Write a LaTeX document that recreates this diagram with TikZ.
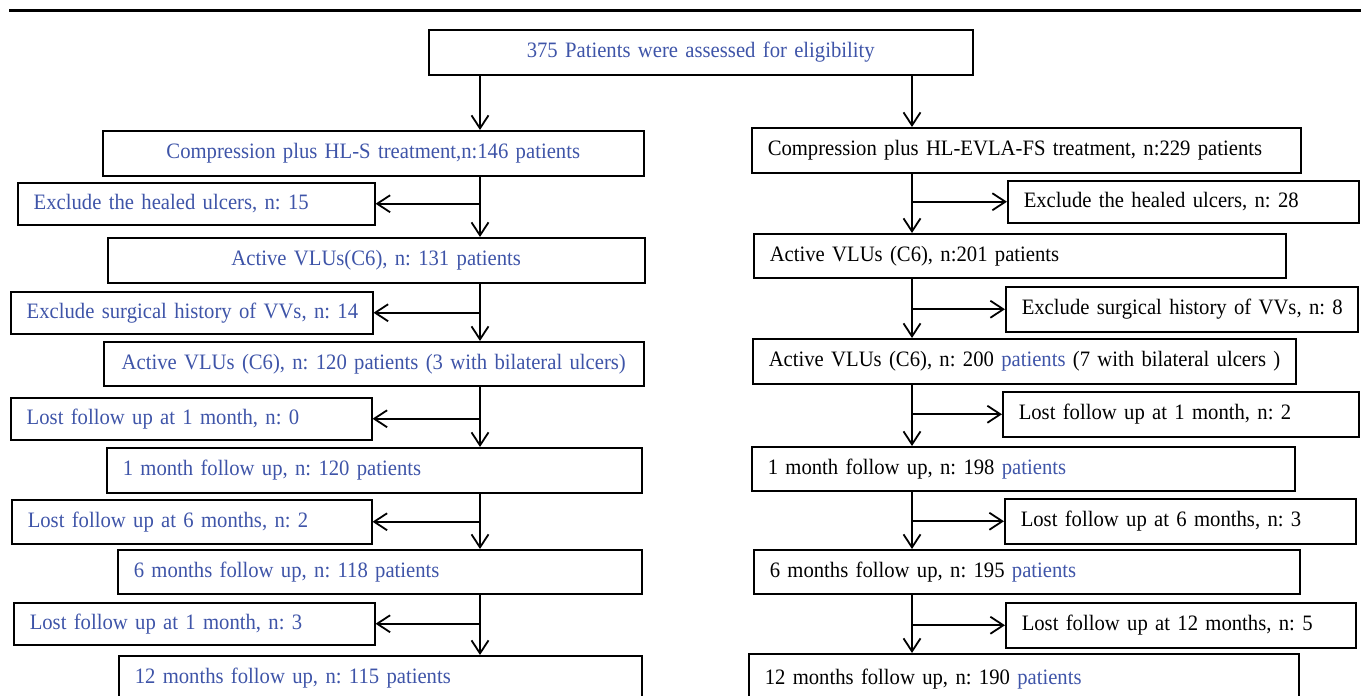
\documentclass[tikz,border=0pt]{standalone}
\usepackage{fontspec}
\setmainfont{Liberation Serif}
\newfontfamily\ff[FakeStretch=0.94]{Liberation Serif}
\usetikzlibrary{arrows.meta}
\definecolor{tblue}{RGB}{62,84,168}
\begin{document}
\begin{tikzpicture}[x=1pt,y=-1pt,
  box/.style={draw, line width=1.5pt, anchor=north west, inner xsep=16pt, inner ysep=0pt,
    font=\ff\fontsize{22pt}{26pt}\selectfont\frenchspacing, text=tblue},
  cbox/.style={box, inner xsep=4pt, align=center},
  lbox/.style={box, align=left},
  bk/.style={text=black},
  arr/.style={line width=1.8pt, -{Straight Barb[length=13pt,width=17pt,line width=1.8pt]}}]
\useasboundingbox (0,0) rectangle (1361,696);
\clip (0,0) rectangle (1361,696);
\draw[line width=3pt] (9,10) -- (1361,10);
\coordinate (xl) at (480,0);
\coordinate (xr) at (912,0);
% top
\node[cbox, text width=536pt, minimum height=45pt] (T) at (428,29) {375 Patients were assessed for eligibility};
% left column
\node[cbox, text width=533pt, minimum height=45pt] (L1) at (102,130) {Compression plus HL-S treatment,n:146 patients};
\node[lbox, text width=325pt, minimum height=42pt] (LE1) at (17,182) {\mbox{Exclude the healed ulcers, n: 15}};
\node[cbox, text width=529pt, minimum height=45pt] (L2) at (107,237) {Active VLUs(C6), n: 131 patients};
\node[lbox, text width=330pt, minimum height=42pt] (LE2) at (10,291) {\mbox{Exclude surgical history of VVs, n: 14}};
\node[cbox, text width=532pt, minimum height=44pt] (L3) at (103,341) {Active VLUs (C6), n: 120 patients (3 with bilateral ulcers)};
\node[lbox, text width=329pt, minimum height=42pt] (LE3) at (10,397) {\mbox{Lost follow up at 1 month, n: 0}};
\node[lbox, text width=503pt, minimum height=45pt] (L4) at (106,447) {\mbox{1 month follow up, n: 120 patients}};
\node[lbox, text width=328pt, minimum height=44pt] (LE4) at (11,499) {\mbox{Lost follow up at 6 months, n: 2}};
\node[lbox, text width=492pt, minimum height=44pt] (L5) at (117,549) {\mbox{6 months follow up, n: 118 patients}};
\node[lbox, text width=329pt, minimum height=42pt] (LE5) at (13,602) {\mbox{Lost follow up at 1 month, n: 3}};
\node[lbox, text width=491pt, minimum height=45pt] (L6) at (118,655) {\mbox{12 months follow up, n: 115 patients}};
% right column
\node[lbox, bk, text width=517pt, minimum height=45pt] (R1) at (751,127) {\mbox{Compression plus HL-EVLA-FS treatment, n:229 patients}};
\node[lbox, bk, text width=319pt, minimum height=42pt] (RE1) at (1007,180) {\mbox{Exclude the healed ulcers, n: 28}};
\node[lbox, bk, text width=500pt, minimum height=44pt] (R2) at (753,233) {\mbox{Active VLUs (C6), n:201 patients}};
\node[lbox, bk, text width=320pt, minimum height=45pt] (RE2) at (1005,286) {\mbox{Exclude surgical history of VVs, n: 8}};
\node[lbox, bk, text width=511pt, minimum height=45pt] (R3) at (752,338) {\mbox{Active VLUs (C6), n: 200 \textcolor{tblue}{patients} (7 with bilateral ulcers )}};
\node[lbox, bk, text width=324pt, minimum height=45pt] (RE3) at (1002,391) {\mbox{Lost follow up at 1 month, n: 2}};
\node[lbox, bk, text width=511pt, minimum height=44pt] (R4) at (751,446) {\mbox{1 month follow up, n: 198 \textcolor{tblue}{patients}}};
\node[lbox, bk, text width=319pt, minimum height=45pt] (RE4) at (1004,498) {\mbox{Lost follow up at 6 months, n: 3}};
\node[lbox, bk, text width=514pt, minimum height=44pt] (R5) at (753,549) {\mbox{6 months follow up, n: 195 \textcolor{tblue}{patients}}};
\node[lbox, bk, text width=318pt, minimum height=45pt] (RE5) at (1005,602) {\mbox{Lost follow up at 12 months, n: 5}};
\node[lbox, bk, text width=518pt, minimum height=50pt] (R6) at (748,653) {\mbox{12 months follow up, n: 190 \textcolor{tblue}{patients}}};
% top arrows
\draw[arr] (T.south -| xl) -- (L1.north -| xl);
\draw[arr] (T.south -| xr) -- (R1.north -| xr);
% left column arrows
\draw[arr] (L1.south -| xl) -- (L2.north -| xl);
\draw[arr] (LE1.east -| xl) -- (LE1.east);
\draw[arr] (L2.south -| xl) -- (L3.north -| xl);
\draw[arr] (LE2.east -| xl) -- (LE2.east);
\draw[arr] (L3.south -| xl) -- (L4.north -| xl);
\draw[arr] (LE3.east -| xl) -- (LE3.east);
\draw[arr] (L4.south -| xl) -- (L5.north -| xl);
\draw[arr] (LE4.east -| xl) -- (LE4.east);
\draw[arr] (L5.south -| xl) -- (L6.north -| xl);
\draw[arr] (LE5.east -| xl) -- (LE5.east);
% right column arrows
\draw[arr] (R1.south -| xr) -- (R2.north -| xr);
\draw[arr] (RE1.west -| xr) -- (RE1.west);
\draw[arr] (R2.south -| xr) -- (R3.north -| xr);
\draw[arr] (RE2.west -| xr) -- (RE2.west);
\draw[arr] (R3.south -| xr) -- (R4.north -| xr);
\draw[arr] (RE3.west -| xr) -- (RE3.west);
\draw[arr] (R4.south -| xr) -- (R5.north -| xr);
\draw[arr] (RE4.west -| xr) -- (RE4.west);
\draw[arr] (R5.south -| xr) -- (R6.north -| xr);
\draw[arr] (RE5.west -| xr) -- (RE5.west);
\end{tikzpicture}
\end{document}
